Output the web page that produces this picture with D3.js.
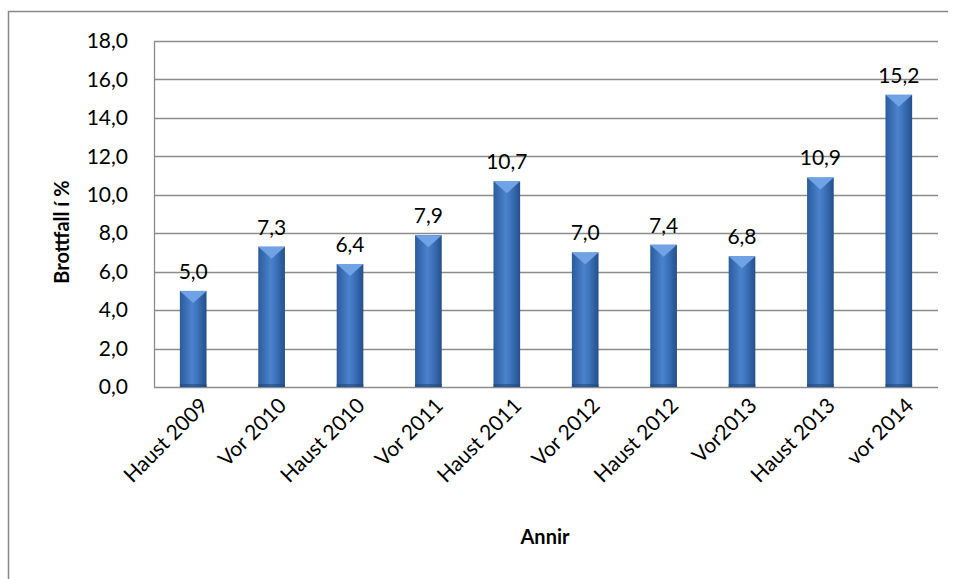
<!DOCTYPE html>
<html lang="is">
  <head>
    <meta charset="utf-8">
    <script src="https://d3js.org/d3.v7.min.js"></script>
    <title>Brottfall</title>
    <style>
      body { margin: 0; background: #fff; }
      text { font-family: Lato, "Open Sans", sans-serif; fill: #000; }
    </style>
  </head>
  <body>
    <script>

    var categories = ["Haust 2009", "Vor 2010", "Haust 2010", "Vor 2011", "Haust 2011",
                      "Vor 2012", "Haust 2012", "Vor2013", "Haust 2013", "vor 2014"];
    var values = [5.0, 7.3, 6.4, 7.9, 10.7, 7.0, 7.4, 6.8, 10.9, 15.2];
    var yTicks = [0, 2, 4, 6, 8, 10, 12, 14, 16, 18];

    var W = 958, H = 579;
    var margin = {top: 41, left: 154, right: 20, bottom: 192};
    var width = 938 - margin.left,
        height = 387 - margin.top;

    var fmt = function(v) { return v.toFixed(1).replace(".", ","); };

    var svg = d3.select("body").append("svg")
        .attr("width", W).attr("height", H);

    // outer frame (only top & left visible in the crop)
    svg.append("path")
        .attr("d", "M8.5," + H + "V11.5H948")
        .attr("fill", "none").attr("stroke", "#888").attr("stroke-width", 1.5);

    var defs = svg.append("defs");
    var grad = defs.append("linearGradient").attr("id", "barGrad")
        .attr("x1", "0%").attr("x2", "100%").attr("y1", "0%").attr("y2", "0%");
    grad.append("stop").attr("offset", "0%").attr("stop-color", "#2b5b9c");
    grad.append("stop").attr("offset", "45%").attr("stop-color", "#4a82cc");
    grad.append("stop").attr("offset", "60%").attr("stop-color", "#4178c2");
    grad.append("stop").attr("offset", "100%").attr("stop-color", "#24508c");

    var g = svg.append("g")
        .attr("transform", "translate(" + margin.left + "," + margin.top + ")");

    var x = d3.scaleBand().domain(categories).range([0, width]).paddingInner(0.66).paddingOuter(0.33);
    var y = d3.scaleLinear().domain([0, 18]).range([height, 0]);

    // gridlines
    g.selectAll(".grid").data(yTicks).enter().append("line")
        .attr("x1", 0).attr("x2", width)
        .attr("y1", function(d) { return Math.round(y(d)) + 0.5; })
        .attr("y2", function(d) { return Math.round(y(d)) + 0.5; })
        .attr("stroke", "#8c8c8c").attr("stroke-width", 1.3);

    // plot left border
    g.append("line").attr("x1", 0.5).attr("x2", 0.5).attr("y1", 0).attr("y2", height)
        .attr("stroke", "#8c8c8c").attr("stroke-width", 1.3);

    var yAxis = g.append("g").call(d3.axisLeft(y).tickValues(yTicks).tickSize(0).tickPadding(26).tickFormat(fmt));
    yAxis.select(".domain").remove();
    yAxis.selectAll("text").style("font-size", "21px");

    // bars
    var bars = g.selectAll(".bar").data(values).enter().append("g");
    bars.append("rect")
        .attr("x", function(d, i) { return x(categories[i]); })
        .attr("y", function(d) { return y(d); })
        .attr("width", x.bandwidth())
        .attr("height", function(d) { return height - y(d); })
        .attr("fill", "url(#barGrad)");
    // bevel on top
    bars.append("path")
        .attr("d", function(d, i) {
          var x0 = x(categories[i]), w = x.bandwidth(), t = y(d);
          return "M" + x0 + "," + t + "H" + (x0 + w) + "L" + (x0 + w / 2) + "," + (t + 12) + "Z";
        })
        .attr("fill", "#6fa3e6");
    bars.append("rect")
        .attr("x", function(d, i) { return x(categories[i]); })
        .attr("y", height - 3)
        .attr("width", x.bandwidth())
        .attr("height", 3)
        .attr("fill", "#1f4a82").attr("opacity", 0.6);

    // value labels
    g.selectAll(".lbl").data(values).enter().append("text")
        .attr("x", function(d, i) { return x(categories[i]) + x.bandwidth() / 2; })
        .attr("y", function(d) { return y(d) - 12; })
        .attr("text-anchor", "middle")
        .style("font-size", "21px")
        .text(fmt);

    // x axis labels
    var xAxis = g.append("g").attr("transform", "translate(0," + height + ")")
        .call(d3.axisBottom(x).tickSize(0).tickPadding(0));
    xAxis.select(".domain").remove();
    xAxis.selectAll("text")
        .style("font-size", "21px")
        .attr("text-anchor", "end")
        .attr("dy", "0")
        .attr("transform", "translate(16,20) rotate(-45)");

    // titles
    svg.append("text").attr("x", 545).attr("y", 544)
        .attr("text-anchor", "middle").style("font-size", "20px").style("font-weight", "bold")
        .text("Annir");
    svg.append("text")
        .attr("transform", "translate(69,232) rotate(-90)")
        .attr("text-anchor", "middle").style("font-size", "20px").style("font-weight", "bold")
        .text("Brottfall í %");

    </script>
  </body>
</html>
